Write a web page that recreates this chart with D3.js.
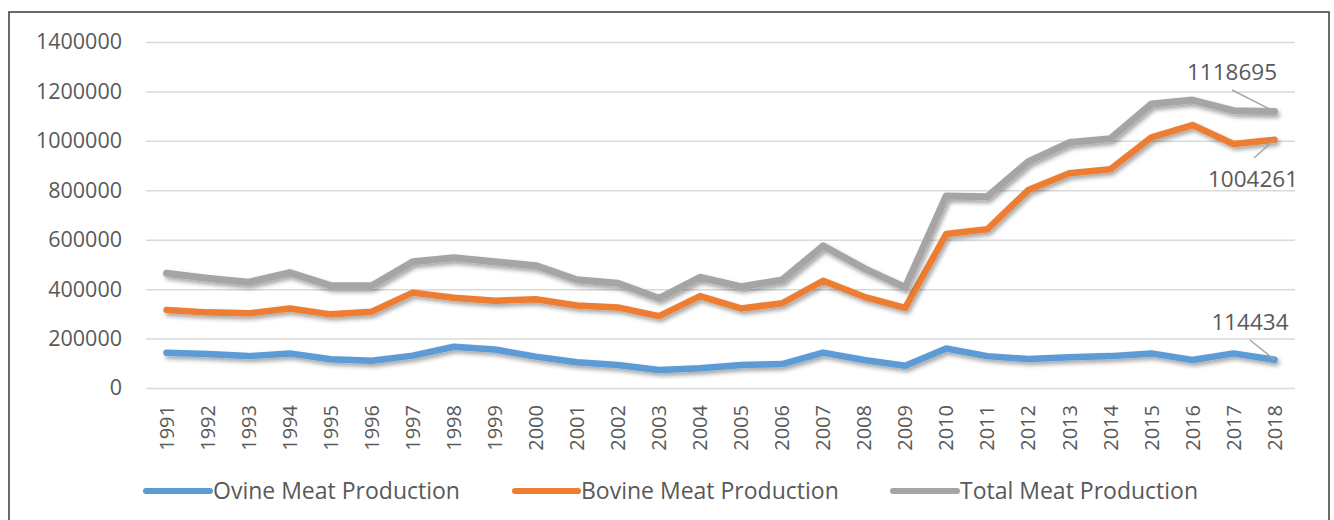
<!DOCTYPE html>
<html>
<head>
<meta charset="utf-8">
<script src="https://cdn.jsdelivr.net/npm/d3@7"></script>
<style>
  html, body { margin: 0; padding: 0; background: #fff; }
  svg { display: block; }
  text { font-family: "Open Sans", "Noto Sans", sans-serif; fill: #595959; }
</style>
</head>
<body>
<svg id="chart" width="1334" height="520"></svg>
<script>
const years = ["1991","1992","1993","1994","1995","1996","1997","1998","1999","2000",
  "2001","2002","2003","2004","2005","2006","2007","2008","2009","2010",
  "2011","2012","2013","2014","2015","2016","2017","2018"];

const ovine = [143000,138000,129000,140000,116000,110000,131000,167000,156000,127000,
  104000,93000,73000,80000,93000,97000,143000,113000,90000,160000,
  129000,117000,124000,129000,140000,113000,140000,114434];

const bovine = [316000,306000,302000,322000,298000,309000,386000,365000,353000,359000,
  334000,326000,291000,372000,322000,343000,434000,369000,324000,623000,
  642000,801000,869000,885000,1014000,1064000,987000,1004261];

const total = [464000,444000,428000,467000,414000,414000,511000,527000,511000,495000,
  438000,424000,363000,448000,410000,437000,575000,484000,407000,777000,
  774000,916000,993000,1009000,1149000,1165000,1122000,1118695];

const yTicks = [0,200000,400000,600000,800000,1000000,1200000,1400000];

const seriesNames = ["Ovine Meat Production","Bovine Meat Production","Total Meat Production"];
const seriesColors = ["#5B9BD5","#ED7D31","#A5A5A5"];

const svg = d3.select("#chart");

// defs: drop shadow
const defs = svg.append("defs");
const f = defs.append("filter").attr("id","shadow")
  .attr("x","-5%").attr("y","-20%").attr("width","110%").attr("height","160%");
f.append("feDropShadow").attr("dx",2).attr("dy",3).attr("stdDeviation",2)
  .attr("flood-color","#000").attr("flood-opacity",0.35);

// outer border
svg.append("rect").attr("x",9).attr("y",12).attr("width",1320).attr("height",530)
  .attr("fill","#fff").attr("stroke","#3a3a3a").attr("stroke-width",1.5);

const x = d3.scaleBand().domain(years).range([146,1295]).padding(0);
const y = d3.scaleLinear().domain([0,1400000]).range([388,42]);
const cx = d => x(d) + x.bandwidth()/2;

// gridlines
svg.append("g").attr("class","grid")
  .attr("transform","translate(146,0)")
  .call(d3.axisLeft(y).tickValues(yTicks).tickSize(-(1295-146)).tickFormat(""))
  .call(g => g.select(".domain").remove())
  .call(g => g.selectAll("line").attr("stroke","#D9D9D9").attr("stroke-width",1.5));

// y axis labels
svg.append("g")
  .attr("transform","translate(146,0)")
  .call(d3.axisLeft(y).tickValues(yTicks).tickSize(0).tickPadding(24).tickFormat(d => String(d)))
  .call(g => g.select(".domain").remove())
  .call(g => g.selectAll("text").attr("font-size",21.5).attr("fill","#595959")
      .style("font-family","'Open Sans', sans-serif"));

// x axis labels
svg.append("g")
  .attr("transform","translate(0,388)")
  .call(d3.axisBottom(x).tickSize(0).tickFormat(d => d))
  .call(g => g.select(".domain").remove())
  .call(g => g.selectAll("text")
      .attr("font-size",20)
      .attr("text-anchor","end")
      .attr("x",0).attr("y",0)
      .attr("dy","0.36em")
      .attr("transform","translate(0,17) rotate(-90)")
      .style("font-family","'Open Sans', sans-serif"));

// lines
const line = d3.line().x((d,i) => cx(years[i])).y(d => y(d));
const allSeries = [ovine, bovine, total];
const widths = [6.5, 6.5, 7];
allSeries.forEach((s, k) => {
  svg.append("path").datum(s)
    .attr("d", line)
    .attr("fill","none")
    .attr("stroke", seriesColors[k])
    .attr("stroke-width", widths[k])
    .attr("stroke-linejoin","round")
    .attr("stroke-linecap","round")
    .attr("filter","url(#shadow)");
});

// data labels for last points with leader lines
const last = years.length - 1;
const lx = cx(years[last]);
const labelSpecs = [
  { s: ovine, tx: 1250, ty: 330, x1: 1250, y1: 340 },
  { s: bovine, tx: 1253, ty: 187, x1: 1254, y1: 158 },
  { s: total, tx: 1232, ty: 80, x1: 1232, y1: 90 }
];
labelSpecs.forEach(sp => {
  const v = sp.s[last];
  svg.append("line")
    .attr("x1", sp.x1).attr("y1", sp.y1)
    .attr("x2", lx).attr("y2", y(v))
    .attr("stroke","#A6A6A6").attr("stroke-width",1.5);
  svg.append("text")
    .attr("x", sp.tx).attr("y", sp.ty)
    .attr("text-anchor","middle")
    .attr("font-size",22.5)
    .attr("fill","#404040")
    .text(String(v));
});

// legend
const legendItems = [
  { x1: 146, x2: 210, tx: 213 },
  { x1: 515, x2: 578, tx: 581 },
  { x1: 893, x2: 957, tx: 960 }
];
legendItems.forEach((it, k) => {
  svg.append("line")
    .attr("x1", it.x1).attr("x2", it.x2).attr("y1", 491).attr("y2", 491)
    .attr("stroke", seriesColors[k]).attr("stroke-width", 6)
    .attr("stroke-linecap","round");
  svg.append("text")
    .attr("x", it.tx).attr("y", 491).attr("dy","0.35em")
    .attr("font-size", 23)
    .attr("fill","#595959")
    .text(seriesNames[k]);
});
</script>
</body>
</html>
